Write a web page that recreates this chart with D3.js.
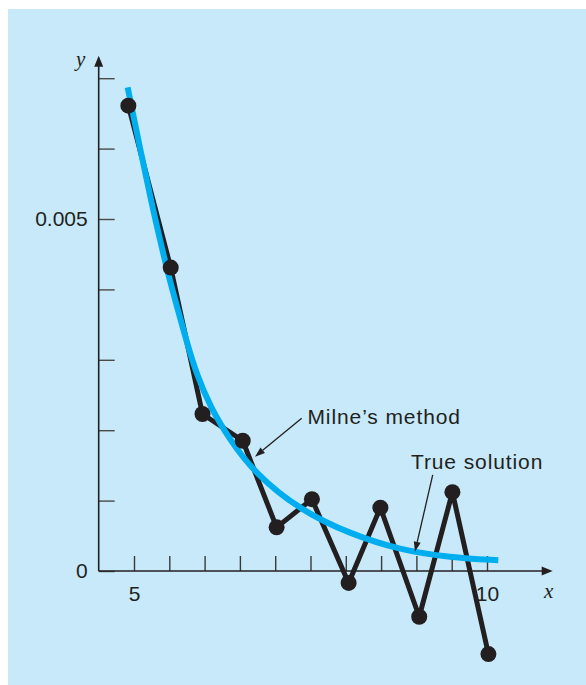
<!DOCTYPE html>
<html>
<head>
<meta charset="utf-8">
<script src="https://cdn.jsdelivr.net/npm/d3@7"></script>
<style>
  html, body { margin: 0; padding: 0; background: #ffffff; }
  svg { display: block; }
</style>
</head>
<body>
<svg id="chart" width="586" height="685"></svg>
<script>
// ---- Data ----
const milneX = [4.92, 5.52, 5.97, 6.54, 7.02, 7.52, 8.04, 8.49, 9.04, 9.51, 10.02];
const milneY = [0.00661, 0.00431, 0.00223, 0.00185, 0.00062, 0.00102, -0.00017, 0.00090, -0.00065, 0.00112, -0.00118];

const trueX = [4.91, 5.09, 5.27, 5.37, 5.48, 5.61, 5.74, 5.88, 6.08, 6.36, 6.71, 7.35, 8.06, 8.77, 9.48, 10.16];
const trueY = [0.00687, 0.00598, 0.00513, 0.00470, 0.00423, 0.00375, 0.00328, 0.00281, 0.00233, 0.00186, 0.00139, 0.000866, 0.000526, 0.000298, 0.000192, 0.000152];

const xTicks = [5, 5.5, 6, 6.5, 7, 7.5, 8, 8.5, 9, 9.5, 10];
const xTickLabels = {5: "5", 10: "10"};
const yTicks = [0, 0.001, 0.002, 0.003, 0.004, 0.005, 0.006, 0.007];
const yTickLabels = {0: "0", 0.005: "0.005"};

const milneLabel = "Milne\u2019s method";
const trueLabel = "True solution";

// ---- Setup ----
const svg = d3.select("#chart");
const W = 586, H = 685;
const ink = "#231f20";
const blue = "#00aeef";

svg.append("rect").attr("x", 8).attr("y", 9).attr("width", W - 8).attr("height", H - 9)
  .attr("fill", "#c7e9f9");

const x = d3.scaleLinear().domain([5, 10]).range([134, 487]);
const y = d3.scaleLinear().domain([0, 0.007]).range([571, 78.2]);

const xMin = 4.5, xMax = 10.93, yMax = 0.00732;

// ---- Axes ----
const xAxis = d3.axisBottom(x).tickValues(xTicks).tickSize(-15).tickPadding(15)
  .tickFormat(d => xTickLabels[d] || "");
const gx = svg.append("g").attr("transform", `translate(0,${y(0)})`).call(xAxis);
gx.select(".domain").remove();
gx.selectAll(".tick line").attr("stroke", "#3a3a3a").attr("stroke-width", 1.4);
gx.selectAll(".tick text").attr("font-family", "Liberation Sans, Arial, sans-serif")
  .attr("font-size", 21).attr("fill", ink);

const yAxis = d3.axisLeft(y).tickValues(yTicks).tickSize(-16).tickPadding(11)
  .tickFormat(d => yTickLabels[d] || "");
const gy = svg.append("g").attr("transform", `translate(${x(xMin)},0)`).call(yAxis);
gy.select(".domain").remove();
gy.selectAll(".tick line").attr("stroke", "#4a4a4a").attr("stroke-width", 1.4);
gy.selectAll(".tick text").attr("font-family", "Liberation Sans, Arial, sans-serif")
  .attr("font-size", 21).attr("fill", ink);

// axis lines with arrowheads
const ax0 = x(xMin), ay0 = y(0);
const axEnd = x(xMax), ayEnd = y(yMax);
svg.append("line").attr("x1", ax0).attr("y1", ay0).attr("x2", axEnd - 6).attr("y2", ay0)
  .attr("stroke", ink).attr("stroke-width", 1.6);
svg.append("line").attr("x1", ax0).attr("y1", ay0).attr("x2", ax0).attr("y2", ayEnd + 6)
  .attr("stroke", ink).attr("stroke-width", 1.6);
svg.append("path").attr("d", `M${axEnd},${ay0} L${axEnd - 11},${ay0 - 4.5} L${axEnd - 11},${ay0 + 4.5} Z`)
  .attr("fill", ink);
svg.append("path").attr("d", `M${ax0},${ayEnd} L${ax0 - 4.5},${ayEnd + 11} L${ax0 + 4.5},${ayEnd + 11} Z`)
  .attr("fill", ink);

svg.append("text").attr("x", ax0 - 18).attr("y", ayEnd + 10).attr("text-anchor", "middle")
  .attr("font-family", "Liberation Serif, Times New Roman, serif").attr("font-style", "italic")
  .attr("font-size", 21).attr("fill", ink).text("y");
svg.append("text").attr("x", axEnd - 4).attr("y", ay0 + 27).attr("text-anchor", "middle")
  .attr("font-family", "Liberation Serif, Times New Roman, serif").attr("font-style", "italic")
  .attr("font-size", 21).attr("fill", ink).text("x");

// ---- Milne's method (line + dots) ----
const milne = milneX.map((v, i) => [v, milneY[i]]);
svg.append("path").datum(milne)
  .attr("d", d3.line().x(d => x(d[0])).y(d => y(d[1])))
  .attr("fill", "none").attr("stroke", ink).attr("stroke-width", 5).attr("stroke-linejoin", "round");

// ---- True solution ----
const truth = trueX.map((v, i) => [v, trueY[i]]);
svg.append("path").datum(truth)
  .attr("d", d3.line().curve(d3.curveBasis).x(d => x(d[0])).y(d => y(d[1])))
  .attr("fill", "none").attr("stroke", blue).attr("stroke-width", 6);

svg.selectAll("circle.m").data(milne).enter().append("circle").attr("class", "m")
  .attr("cx", d => x(d[0])).attr("cy", d => y(d[1])).attr("r", 8).attr("fill", ink);

// ---- Annotations ----
function arrow(x1, y1, x2, y2) {
  const p1 = [x(x1), y(y1)], p2 = [x(x2), y(y2)];
  const ang = Math.atan2(p2[1] - p1[1], p2[0] - p1[0]);
  const L = 10, hw = 3.5;
  const bx = p2[0] - L * Math.cos(ang), by = p2[1] - L * Math.sin(ang);
  svg.append("line").attr("x1", p1[0]).attr("y1", p1[1]).attr("x2", bx).attr("y2", by)
    .attr("stroke", ink).attr("stroke-width", 1.3);
  const px = -Math.sin(ang) * hw, py = Math.cos(ang) * hw;
  svg.append("path").attr("d", `M${p2[0]},${p2[1]} L${bx + px},${by + py} L${bx - px},${by - py} Z`)
    .attr("fill", ink);
}
arrow(7.375, 0.002169, 6.714, 0.001624);
arrow(9.231, 0.001364, 8.980, 0.000274);

svg.append("text").attr("x", x(7.457)).attr("y", y(0.002088))
  .attr("font-family", "Liberation Sans, Arial, sans-serif").attr("font-size", 21)
  .attr("letter-spacing", 0.9).attr("fill", ink).text(milneLabel);
svg.append("text").attr("x", x(8.923)).attr("y", y(0.001445))
  .attr("font-family", "Liberation Sans, Arial, sans-serif").attr("font-size", 21)
  .attr("letter-spacing", 0.9).attr("fill", ink).text(trueLabel);
</script>
</body>
</html>
